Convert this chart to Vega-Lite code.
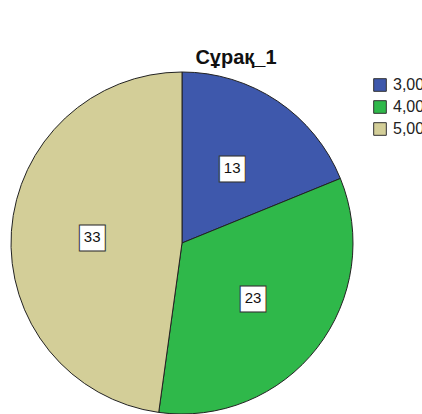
{
  "$schema": "https://vega.github.io/schema/vega-lite/v6.json",
  "width": 364,
  "height": 486,
  "autosize": "none",
  "padding": {"left": 0, "top": 0, "right": 58, "bottom": 0},
  "background": "white",
  "config": {"view": {"stroke": null}},
  "title": {
    "text": "Сұрақ_1",
    "font": "Liberation Sans",
    "fontSize": 20,
    "fontWeight": "bold",
    "color": "#111",
    "anchor": "middle",
    "orient": "top",
    "offset": 0,
    "dx": 54,
    "dy": 68
  },
  "data": {
    "values": [
      {"cat": "3,00", "count": 13},
      {"cat": "4,00", "count": 23},
      {"cat": "5,00", "count": 33}
    ]
  },
  "encoding": {
    "theta": {"field": "count", "type": "quantitative", "stack": true},
    "order": {"field": "cat", "type": "ordinal"}
  },
  "layer": [
    {
      "mark": {"type": "arc", "radius": 171, "stroke": "#222", "strokeWidth": 1},
      "encoding": {
        "color": {
          "field": "cat",
          "type": "nominal",
          "scale": {"domain": ["3,00", "4,00", "5,00"], "range": ["#3e58ac", "#2fb84a", "#d3ce98"]},
          "legend": {
            "title": null,
            "orient": "none",
            "legendX": 372,
            "legendY": 77,
            "symbolType": "square",
            "symbolSize": 160,
            "symbolStrokeColor": "#333",
            "symbolStrokeWidth": 1,
            "labelFont": "Liberation Sans",
            "labelFontSize": 16,
            "labelColor": "#222",
            "rowPadding": 4,
            "labelOffset": 5
          }
        }
      }
    },
    {
      "mark": {"type": "text", "radius": 90, "text": "■", "font": "DejaVu Sans", "fontSize": 34, "fill": "white", "stroke": "#333", "strokeWidth": 1, "baseline": "middle", "align": "center"}
    },
    {
      "mark": {"type": "text", "radius": 90, "font": "Liberation Sans", "fontSize": 15, "fill": "#111", "baseline": "middle", "align": "center"},
      "encoding": {"text": {"field": "count", "type": "quantitative"}}
    }
  ]
}
